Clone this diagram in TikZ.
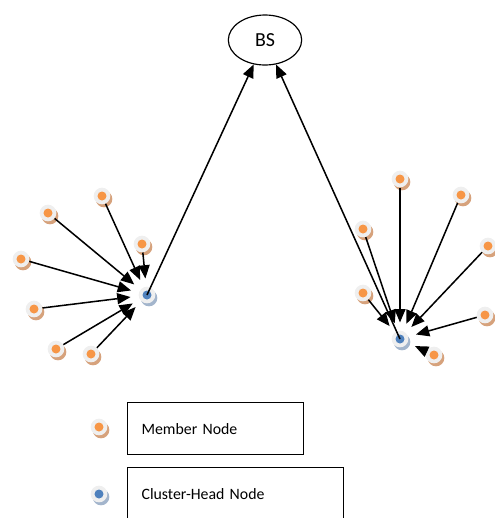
\documentclass[tikz,border=0pt]{standalone}
\usepackage{fontspec}
\setmainfont{Carlito}
\usetikzlibrary{arrows.meta, positioning, shadows, shapes.geometric}

\definecolor{memorange}{HTML}{F79646}
\definecolor{memshadow}{HTML}{D6A27C}
\definecolor{headblue}{HTML}{4F81BD}
\definecolor{headshadow}{HTML}{A3B5CC}
\definecolor{ringgray}{HTML}{EFEFEF}

\begin{document}
\begin{tikzpicture}[
    x=0.03cm, y=-0.03cm,
    member/.style = {
        circle,
        fill=ringgray,
        minimum size=5mm,
        inner sep=0pt,
        general shadow={fill=memshadow, shadow xshift=0.6mm, shadow yshift=-0.9mm},
        path picture={\fill[memorange] (path picture bounding box.center) circle[radius=1.35mm];}
    },
    head/.style = {
        circle,
        fill=ringgray,
        minimum size=5mm,
        inner sep=0pt,
        general shadow={fill=headshadow, shadow xshift=0.6mm, shadow yshift=-0.9mm},
        path picture={\fill[headblue] (path picture bounding box.center) circle[radius=1.35mm];}
    },
    legbox/.style = {
        rectangle,
        draw,
        line width=1pt,
        anchor=north west,
        align=left,
        inner xsep=4.2mm,
        minimum height=1.56cm,
        font=\fontsize{13.5}{16}\selectfont
    },
    link/.style = {
        -{Triangle[length=4mm, width=3.3mm]},
        line width=1.3pt
    }
]
\useasboundingbox (0,0) rectangle (495,518);

% Base station
\node[draw, ellipse, line width=1pt, minimum width=2.2cm, minimum height=1.5cm,
      font=\fontsize{17}{19}\selectfont] (bs) at (265,40) {BS};

% Left cluster
\node[member] (lm1) at (48,213)  {};
\node[member] (lm2) at (102,196) {};
\node[member] (lm3) at (142,244) {};
\node[member] (lm4) at (21,259)  {};
\node[member] (lm5) at (34,309)  {};
\node[member] (lm6) at (56,349)  {};
\node[member] (lm7) at (91,354)  {};
\node[head]   (lch) at (147,295) {};

% Right cluster
\node[member] (rm1) at (400,179) {};
\node[member] (rm2) at (461,195) {};
\node[member] (rm3) at (363,229) {};
\node[member] (rm4) at (488,246) {};
\node[member] (rm5) at (363,293) {};
\node[member] (rm6) at (485,315) {};
\node[member] (rm7) at (434,355) {};
\node[head]   (rch) at (400,339) {};

% Legend
\node[member] (legm) at (99,427) {};
\node[legbox, text width=4.44cm] (legmtext) at (127,402) {Member Node};
\node[head]   (legh) at (99,494) {};
\node[legbox, text width=5.64cm] (leghtext) at (127,467) {Cluster-Head Node};

% Members to left cluster head
\foreach \m in {lm1,lm2,lm3,lm4,lm5,lm6,lm7}
    \draw[link, shorten >=2.4mm] (\m) -- (lch);

% Members to right cluster head
\foreach \m in {rm1,rm2,rm3,rm4,rm5,rm6,rm7}
    \draw[link, shorten >=2.4mm] (\m) -- (rch);

% Cluster heads to BS
\draw[link] (lch.center) -- (bs);
\draw[link] (rch.center) -- (bs);

\end{tikzpicture}
\end{document}
